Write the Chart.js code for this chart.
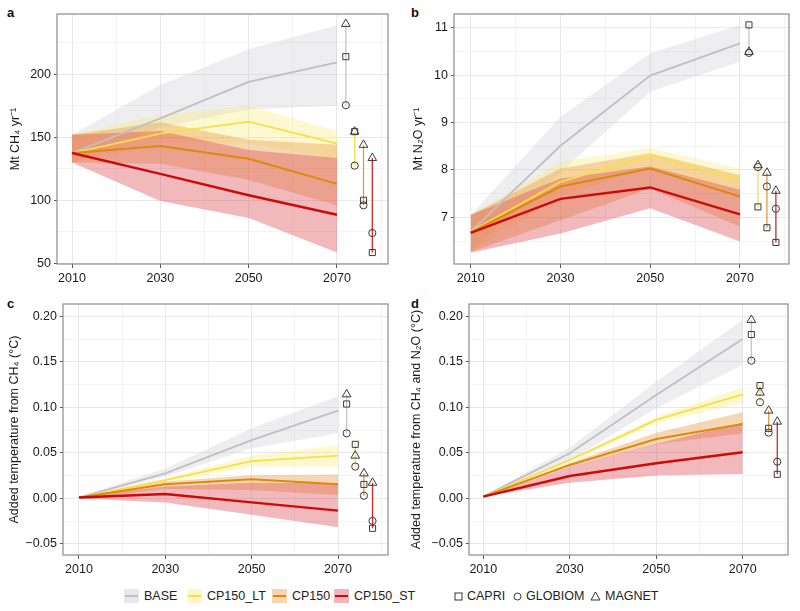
<!DOCTYPE html>
<html>
<head>
<meta charset="utf-8">
<script src="https://cdn.jsdelivr.net/npm/chart.js@4.4.1/dist/chart.umd.min.js"></script>
<style>
body { margin:0; background:#fff; width:800px; height:611px; position:relative; overflow:hidden; font-family:"Liberation Sans", Arial, sans-serif; }
canvas { position:absolute; }
.tag { position:absolute; font-weight:bold; font-size:13px; color:#111; }
.leg { position:absolute; top:588px; height:16px; display:flex; align-items:center; font-size:12.5px; color:#222; white-space:nowrap; }
.swatch { width:15px; height:14px; position:relative; margin-right:5px; }
.swatch div { position:absolute; left:1px; right:1px; top:6px; height:2px; }
.leg svg { margin-right:4px; }
</style>
</head>
<body>

<div class="tag" style="left:7px;top:5px">a</div>
<div class="tag" style="left:411px;top:5px">b</div>
<div class="tag" style="left:7px;top:296px">c</div>
<div class="tag" style="left:411px;top:296px">d</div>

<canvas id="chartA" width="400" height="290" style="left:0;top:0"></canvas>
<canvas id="chartB" width="400" height="290" style="left:400px;top:0"></canvas>
<canvas id="chartC" width="400" height="290" style="left:0;top:290px"></canvas>
<canvas id="chartD" width="400" height="290" style="left:400px;top:290px"></canvas>

<div class="leg" style="left:124px"><div class="swatch" style="background:rgba(205,205,212,0.45)"><div style="background:#c0c0c4"></div></div>BASE</div>
<div class="leg" style="left:187px"><div class="swatch" style="background:rgba(252,232,110,0.4)"><div style="background:#f6e04a"></div></div>CP150_LT</div>
<div class="leg" style="left:272px"><div class="swatch" style="background:rgba(232,150,60,0.4)"><div style="background:#dd8a0c"></div></div>CP150</div>
<div class="leg" style="left:334px"><div class="swatch" style="background:rgba(222,70,80,0.4)"><div style="background:#cc0a0a"></div></div>CP150_ST</div>
<div class="leg" style="left:454px"><svg width="9" height="9"><rect x="1" y="1" width="7" height="7" fill="none" stroke="#333" stroke-width="1"/></svg>CAPRI</div>
<div class="leg" style="left:513px"><svg width="9" height="9"><circle cx="4.5" cy="4.5" r="3.5" fill="none" stroke="#333" stroke-width="1"/></svg>GLOBIOM</div>
<div class="leg" style="left:590px"><svg width="11" height="10"><polygon points="5.5,1 10,9 1,9" fill="none" stroke="#333" stroke-width="1"/></svg>MAGNET</div>

<script>
const years = [2010, 2030, 2050, 2070];
const scenarios = ["BASE", "CP150_LT", "CP150", "CP150_ST"];
const modelX = [2072, 2074, 2076, 2078];   // dodged positions of the model markers

// a: CH4 emissions, Mt CH4 / yr   (rows: BASE, CP150_LT, CP150, CP150_ST)
const ch4Mid = [
    [137.5, 165, 194, 209.5],
    [137.5, 153, 162.5, 145],
    [137.5, 143, 133, 113],
    [137.5, 121, 104, 88.5]
];
const ch4High = [
    [152, 191.5, 220, 239],
    [152, 168, 175, 155],
    [152, 162, 148, 144],
    [152, 155, 140, 133.5]
];
const ch4Low = [
    [130, 158, 172, 175],
    [130, 146, 145, 133],
    [130, 129, 116, 96],
    [130, 99.5, 86, 58.5]
];
const ch4Capri = [214, 154.5, 100, 58.5];
const ch4Globiom = [175.5, 127.5, 96, 74];
const ch4Magnet = [240, 154.5, 144, 133.5];
const ch4Ticks = [50, 100, 150, 200];

// b: N2O emissions, Mt N2O / yr
const n2oMid = [
    [6.70, 8.51, 9.99, 10.67],
    [6.70, 7.75, 8.31, 7.79],
    [6.68, 7.65, 8.03, 7.44],
    [6.67, 7.39, 7.63, 7.06]
];
const n2oHigh = [
    [7.05, 9.12, 10.46, 11.06],
    [7.06, 8.17, 8.46, 8.03],
    [7.05, 8.03, 8.35, 7.89],
    [7.05, 7.82, 8.07, 7.58]
];
const n2oLow = [
    [6.30, 7.95, 9.65, 10.28],
    [6.28, 7.45, 8.05, 7.50],
    [6.27, 6.94, 7.61, 6.80],
    [6.25, 6.66, 7.19, 6.49]
];
const n2oCapri = [11.06, 7.22, 6.78, 6.47];
const n2oGlobiom = [10.47, 8.06, 7.65, 7.18];
const n2oMagnet = [10.49, 8.10, 7.94, 7.56];
const n2oTicks = [7, 8, 9, 10, 11];

// c: added temperature from CH4, degC
const tCh4Mid = [
    [0.001, 0.0276, 0.064, 0.0964],
    [0.001, 0.020, 0.041, 0.047],
    [0.001, 0.0155, 0.021, 0.0155],
    [0.001, 0.0048, -0.0043, -0.0134]
];
const tCh4High = [
    [0.002, 0.033, 0.077, 0.1125],
    [0.002, 0.022, 0.047, 0.0587],
    [0.002, 0.0185, 0.0255, 0.0262],
    [0.002, 0.013, 0.0173, 0.0166]
];
const tCh4Low = [
    [0, 0.024, 0.055, 0.0715],
    [0, 0.017, 0.035, 0.035],
    [0, 0.0103, 0.0093, 0.0038],
    [0, -0.0044, -0.018, -0.0317]
];
const tCh4Capri = [0.1037, 0.0594, 0.0154, -0.0328];
const tCh4Globiom = [0.0715, 0.035, 0.003, -0.0247];
const tCh4Magnet = [0.1143, 0.047, 0.0275, 0.0172];

// d: added temperature from CH4 and N2O, degC
const tAllMid = [
    [0.002, 0.0496, 0.1136, 0.175],
    [0.002, 0.0422, 0.0862, 0.1143],
    [0.002, 0.0368, 0.0653, 0.0818],
    [0.002, 0.0246, 0.0386, 0.0507]
];
const tAllHigh = [
    [0.002, 0.056, 0.128, 0.196],
    [0.002, 0.044, 0.0898, 0.122],
    [0.002, 0.039, 0.072, 0.0946],
    [0.002, 0.035, 0.060, 0.0832]
];
const tAllLow = [
    [0.002, 0.042, 0.099, 0.1466],
    [0.002, 0.0393, 0.0825, 0.1045],
    [0.002, 0.035, 0.0595, 0.0715],
    [0.002, 0.0173, 0.0253, 0.0268]
];
const tAllCapri = [0.180, 0.1239, 0.077, 0.0265];
const tAllGlobiom = [0.1513, 0.1056, 0.0723, 0.0404];
const tAllMagnet = [0.196, 0.1162, 0.0964, 0.0843];
const tempTicks = [-0.05, 0, 0.05, 0.10, 0.15, 0.20];

const xTicks = [2010, 2030, 2050, 2070];

const lineColors = ["#c0c0c4", "#f6e04a", "#dd8a0c", "#cc0a0a"];
const bandColors = ["rgba(205,205,212,0.35)", "rgba(252,232,110,0.32)", "rgba(232,150,60,0.38)", "rgba(222,70,80,0.38)"];
const rangeColors = ["#c6c6c6", "#f6e04a", "#e09a40", "#d8262b"];
const lineWidths = [1.8, 1.8, 2, 2.4];

const FONT = "'Liberation Sans', Arial, sans-serif";

// majors plus the half-way minor grid lines
function withMinors(majors, min, max) {
    const step = majors[1] - majors[0];
    const out = [];
    const first = majors[0] - step / 2;
    for (let i = 0; i <= majors.length * 2 + 2; i++) {
        const v = +(first + i * step / 2).toFixed(6);
        if (v >= min - 1e-9 && v <= max + 1e-9) out.push(v);
    }
    return out;
}

function isIn(list, v) {
    return list.some(m => Math.abs(m - v) < 1e-7);
}

const framePlugin = {
    id: "frame",
    afterDraw(chart) {
        const a = chart.chartArea;
        const ctx = chart.ctx;
        ctx.save();
        ctx.strokeStyle = "#8c8c8c";
        ctx.lineWidth = 1.2;
        ctx.strokeRect(a.left, a.top, a.right - a.left, a.bottom - a.top);
        ctx.restore();
    }
};

function makePanel(id, p) {

    const datasets = [];

    for (let s = 0; s < 4; s++) {
        datasets.push({
            data: years.map((x, i) => ({ x: x, y: p.high[s][i] })),
            fill: "+1",
            backgroundColor: bandColors[s],
            borderWidth: 0,
            pointRadius: 0,
            order: 20 - s
        });
        datasets.push({
            data: years.map((x, i) => ({ x: x, y: p.low[s][i] })),
            fill: false,
            borderWidth: 0,
            pointRadius: 0,
            order: 20 - s
        });
    }

    for (let s = 0; s < 4; s++) {
        const vals = [p.capri[s], p.globiom[s], p.magnet[s]];
        datasets.push({
            data: [{ x: modelX[s], y: Math.min(...vals) }, { x: modelX[s], y: Math.max(...vals) }],
            borderColor: rangeColors[s],
            borderWidth: 1.3,
            pointRadius: 0,
            fill: false,
            order: 8
        });
    }

    for (let s = 0; s < 4; s++) {
        datasets.push({
            label: scenarios[s],
            data: years.map((x, i) => ({ x: x, y: p.mid[s][i] })),
            borderColor: lineColors[s],
            borderWidth: lineWidths[s],
            pointRadius: 0,
            fill: false,
            order: 5 - s
        });
    }

    const models = [
        { data: p.capri, style: "rect", r: 4.3 },
        { data: p.globiom, style: "circle", r: 3.6 },
        { data: p.magnet, style: "triangle", r: 5 }
    ];
    models.forEach(m => {
        datasets.push({
            data: m.data.map((v, s) => ({ x: modelX[s], y: v })),
            showLine: false,
            pointStyle: m.style,
            pointRadius: m.r,
            pointBorderColor: "#3a3a3a",
            pointBackgroundColor: "rgba(255,255,255,0)",
            pointBorderWidth: 1,
            order: 0
        });
    });

    const xGrid = withMinors(xTicks, p.xMin, p.xMax);
    const yGrid = withMinors(p.yTicks, p.yMin, p.yMax);

    new Chart(document.getElementById(id), {
        type: "line",
        data: { datasets: datasets },
        options: {
            responsive: false,
            animation: false,
            events: [],
            layout: { padding: { top: 14, right: p.padRight, left: 0, bottom: 0 } },
            plugins: { legend: { display: false }, tooltip: { enabled: false } },
            scales: {
                x: {
                    type: "linear",
                    min: p.xMin,
                    max: p.xMax,
                    afterBuildTicks: s => { s.ticks = xGrid.map(v => ({ value: v })); },
                    afterFit: s => { s.height = p.xHeight; },
                    border: { display: false },
                    grid: {
                        color: c => isIn(xTicks, c.tick.value) ? "#e8e8e8" : "#f3f3f3",
                        lineWidth: 1,
                        tickLength: 4,
                        tickColor: c => isIn(xTicks, c.tick.value) ? "#555" : "rgba(0,0,0,0)"
                    },
                    ticks: {
                        autoSkip: false,
                        maxRotation: 0,
                        padding: 3,
                        color: "#1a1a1a",
                        font: { family: FONT, size: 12.5 },
                        callback: v => isIn(xTicks, v) ? String(v) : ""
                    }
                },
                y: {
                    min: p.yMin,
                    max: p.yMax,
                    afterBuildTicks: s => { s.ticks = yGrid.map(v => ({ value: v })); },
                    afterFit: s => { s.width = p.yWidth; },
                    border: { display: false },
                    grid: {
                        color: c => isIn(p.yTicks, c.tick.value) ? "#e8e8e8" : "#f3f3f3",
                        lineWidth: 1,
                        tickLength: 3,
                        tickColor: c => isIn(p.yTicks, c.tick.value) ? "#555" : "rgba(0,0,0,0)"
                    },
                    ticks: {
                        autoSkip: false,
                        padding: 3,
                        color: "#1a1a1a",
                        font: { family: FONT, size: 12.5 },
                        callback: v => isIn(p.yTicks, v) ? p.fmt(v) : ""
                    },
                    title: {
                        display: true,
                        text: p.title,
                        color: "#1a1a1a",
                        font: { family: FONT, size: 12.5 },
                        padding: { top: p.titlePad, bottom: 0 }
                    }
                }
            }
        },
        plugins: [framePlugin]
    });
}

const fmtTemp = v => (v < 0 ? "\u2212" + Math.abs(v).toFixed(2) : v.toFixed(2));

makePanel("chartA", {
    mid: ch4Mid, high: ch4High, low: ch4Low,
    capri: ch4Capri, globiom: ch4Globiom, magnet: ch4Magnet,
    yTicks: ch4Ticks, fmt: v => String(v),
    xMin: 2006.6, xMax: 2081.55, yMin: 49.4, yMax: 247.9,
    yWidth: 57, xHeight: 26, padRight: 12, titlePad: 8.5,
    title: "Mt CH\u2084 yr\u207B\u00B9"
});

makePanel("chartB", {
    mid: n2oMid, high: n2oHigh, low: n2oLow,
    capri: n2oCapri, globiom: n2oGlobiom, magnet: n2oMagnet,
    yTicks: n2oTicks, fmt: v => String(v),
    xMin: 2006.28, xMax: 2080.92, yMin: 6.015, yMax: 11.29,
    yWidth: 54, xHeight: 26, padRight: 11, titlePad: 11.5,
    title: "Mt N\u2082O yr\u207B\u00B9"
});

makePanel("chartC", {
    mid: tCh4Mid, high: tCh4High, low: tCh4Low,
    capri: tCh4Capri, globiom: tCh4Globiom, magnet: tCh4Magnet,
    yTicks: tempTicks, fmt: fmtTemp,
    xMin: 2006.3, xMax: 2081.58, yMin: -0.0621, yMax: 0.2135,
    yWidth: 63, xHeight: 25, padRight: 12, titlePad: 7,
    title: "Added temperature from CH\u2084 (\u00B0C)"
});

makePanel("chartD", {
    mid: tAllMid, high: tAllHigh, low: tAllLow,
    capri: tAllCapri, globiom: tAllGlobiom, magnet: tAllMagnet,
    yTicks: tempTicks, fmt: fmtTemp,
    xMin: 2006.69, xMax: 2080.48, yMin: -0.0621, yMax: 0.2135,
    yWidth: 69, xHeight: 25, padRight: 12, titlePad: 9,
    title: "Added temperature from CH\u2084 and N\u2082O (\u00B0C)"
});
</script>
</body>
</html>
